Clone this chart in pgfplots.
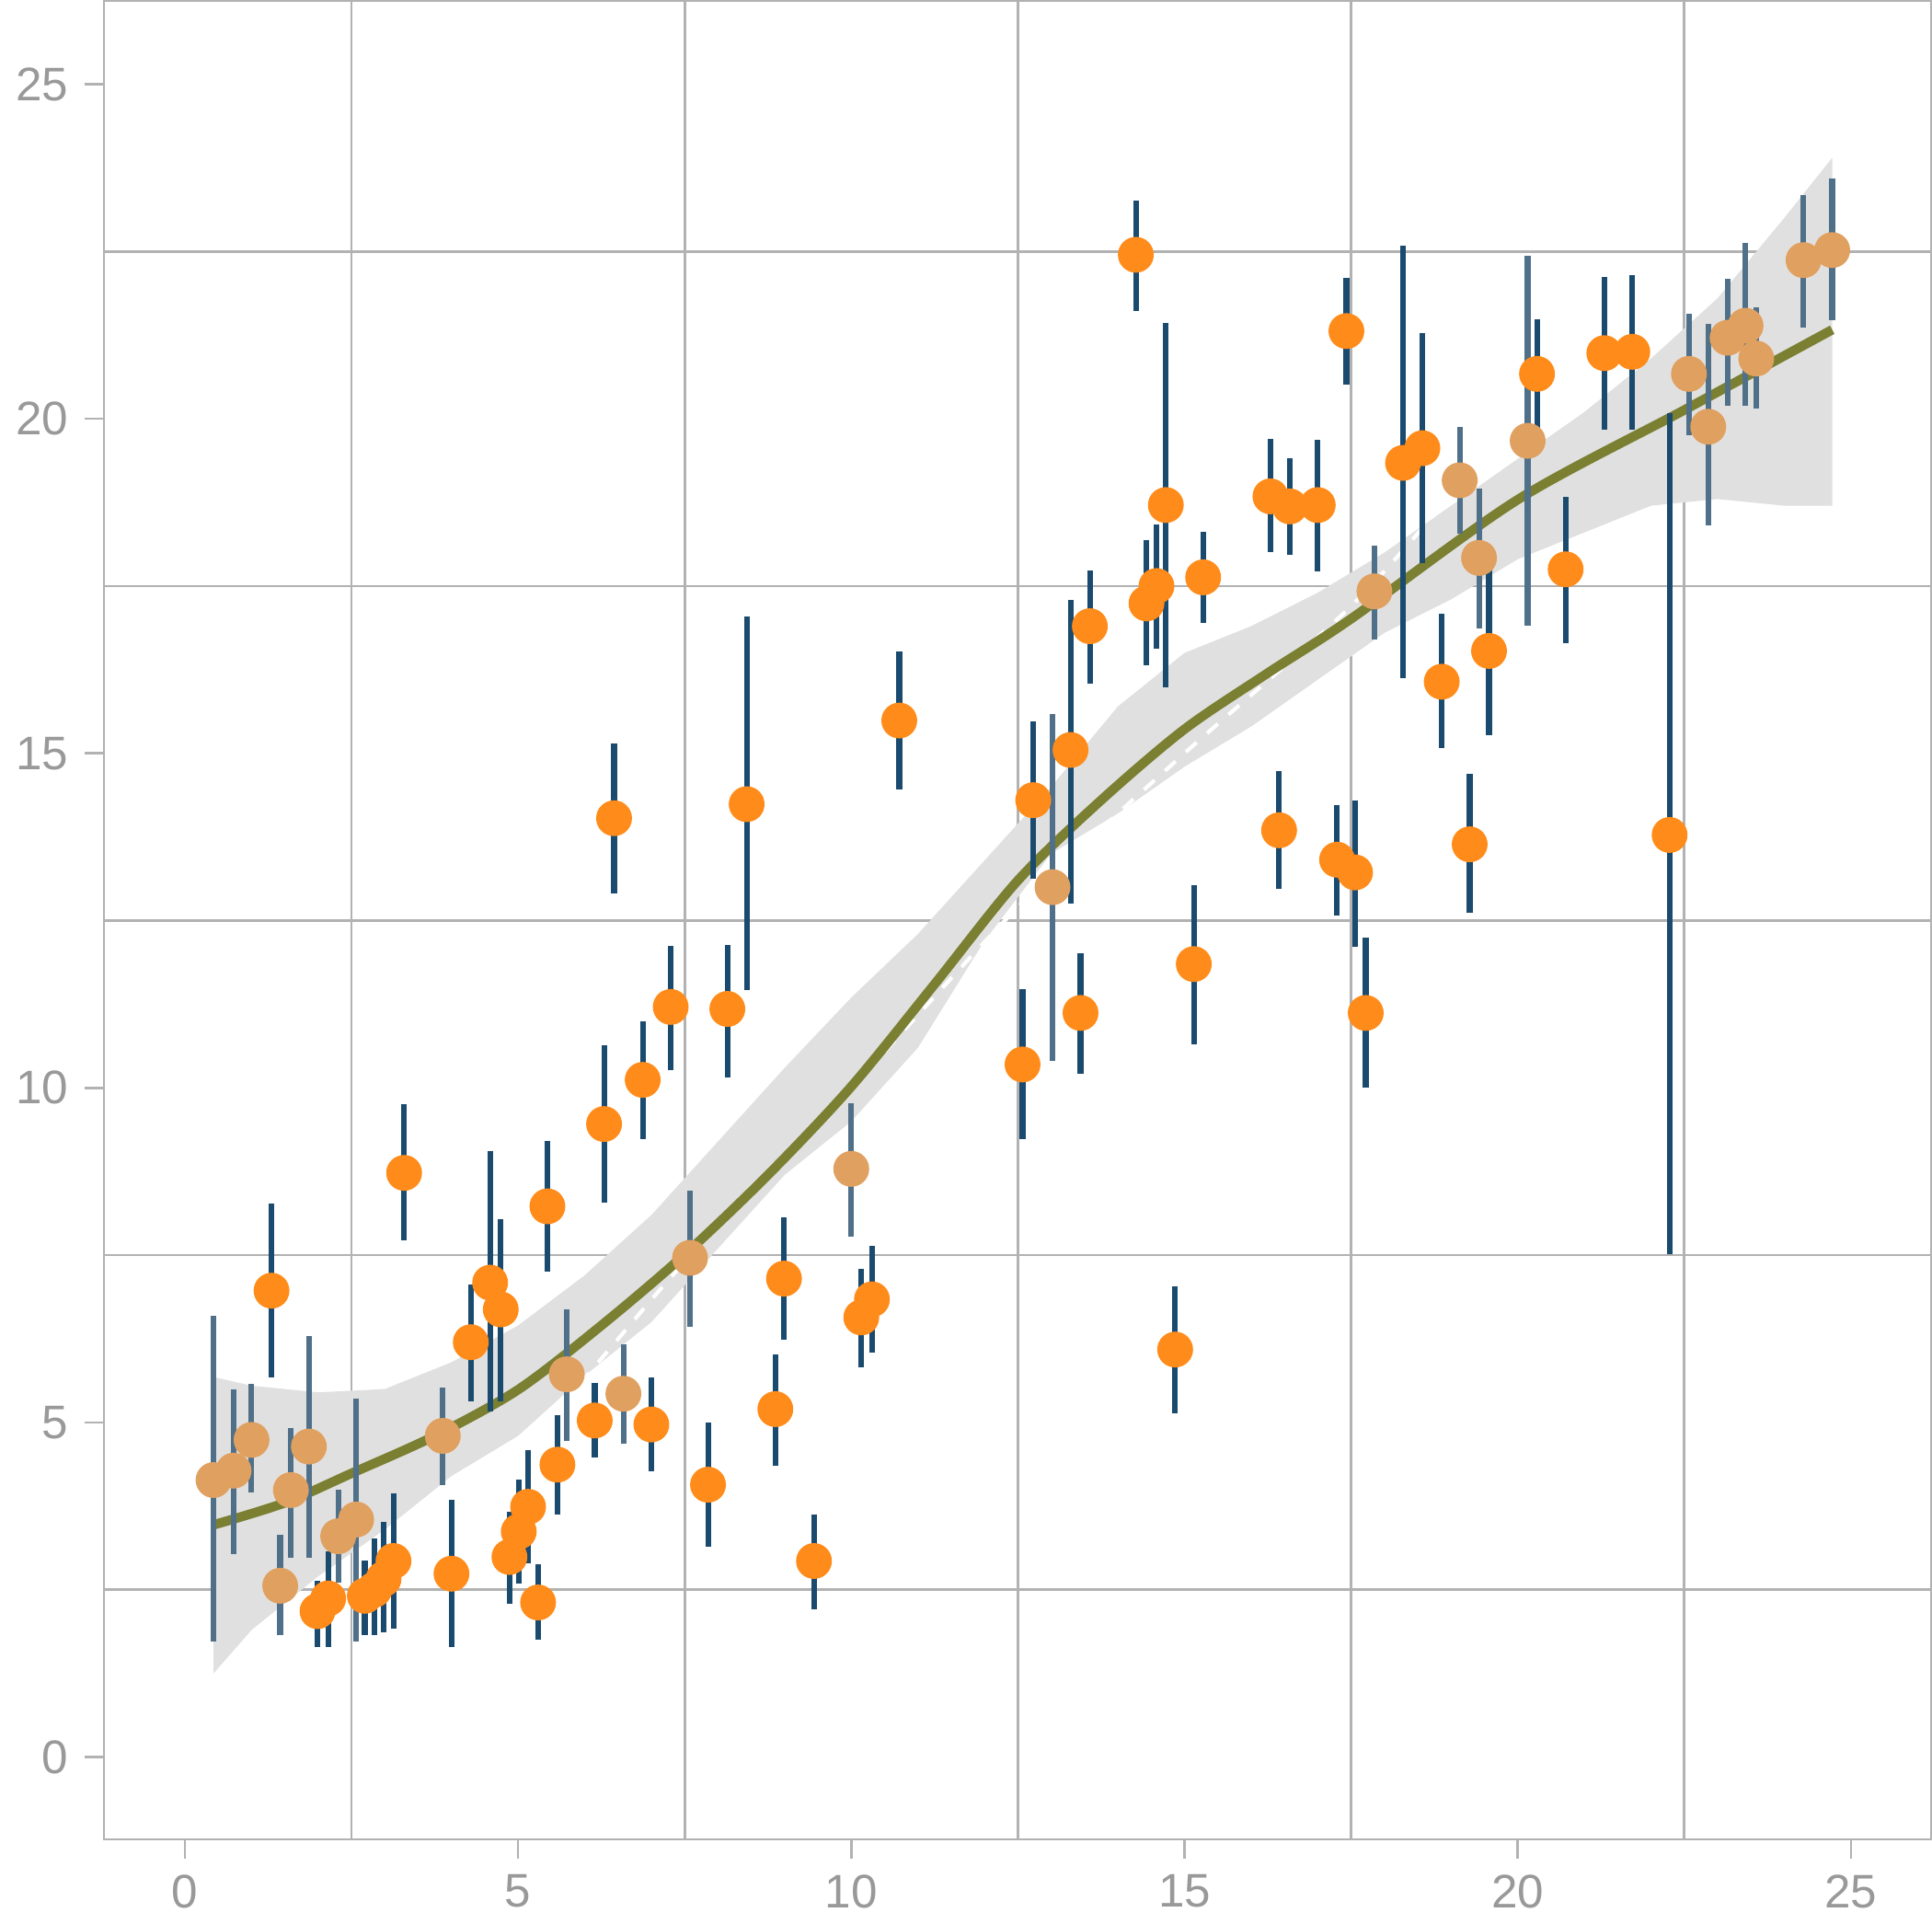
\documentclass[border=0pt]{standalone}
\usepackage{pgfplots}
\usepackage{pgfplotstable}
\pgfplotsset{compat=1.18}
\usepackage{fontspec}
\setmainfont{Liberation Sans}
\definecolor{dorange}{HTML}{FF8C1A}
\definecolor{tan}{HTML}{E0A060}
\definecolor{dblue}{HTML}{1A4A6E}
\definecolor{gblue}{HTML}{4F7088}
\definecolor{olive}{HTML}{7A7F32}
\definecolor{band}{HTML}{E0E0E0}
\pgfplotstableread{
x y lo hi
1.3 6.97 5.82 8.13
1.99 2.18 1.79 2.5
2.15 2.37 1.79 2.93
2.7 2.41 1.97 2.79
2.84 2.5 1.97 3.12
2.98 2.66 2.0 3.37
3.13 2.93 2.06 3.8
3.29 8.73 7.86 9.61
4.0 2.74 1.79 3.7
4.29 6.2 5.45 6.92
4.58 7.09 5.3 8.92
4.74 6.69 5.45 7.9
4.87 2.99 2.43 3.53
5.01 3.37 2.74 4.0
5.15 3.74 3.04 4.45
5.3 2.31 1.89 2.74
5.44 8.23 7.4 9.06
5.59 4.37 3.76 4.97
6.15 5.03 4.62 5.45
6.29 9.46 8.42 10.5
6.44 14.03 13.04 15.0
6.87 10.12 9.38 10.85
7.0 4.97 4.41 5.53
7.29 11.21 10.4 11.98
7.85 4.07 3.29 4.86
8.14 11.18 10.3 12.0
8.43 14.24 11.6 16.9
8.86 5.2 4.49 5.88
8.99 7.15 6.38 7.92
9.44 2.93 2.35 3.49
10.15 6.57 5.97 7.15
10.31 6.84 6.18 7.5
10.72 15.49 14.6 16.38
12.57 10.35 9.38 11.33
12.73 14.3 13.26 15.34
13.29 15.05 12.89 17.15
13.44 11.12 10.35 11.87
13.58 16.9 16.18 17.59
14.27 22.45 21.75 23.12
14.43 17.24 16.45 18.05
14.58 17.5 16.7 18.28
14.72 18.71 16.13 21.29
14.86 6.09 5.28 6.9
15.14 11.85 10.79 12.89
15.28 17.63 17.09 18.17
16.29 18.84 18.15 19.56
16.42 13.85 13.12 14.6
16.58 18.69 18.11 19.27
17.0 18.71 17.86 19.54
17.29 13.41 12.72 14.08
17.43 21.31 20.65 21.97
17.56 13.22 12.25 14.16
17.72 11.12 10.15 12.1
18.28 19.34 16.26 22.45
18.57 19.56 17.98 21.14
18.86 16.07 15.22 16.94
19.28 13.64 12.76 14.55
19.57 16.53 15.41 17.63
20.29 20.67 19.98 21.35
20.72 17.75 16.78 18.69
21.3 20.98 19.98 21.98
21.72 21.0 19.98 22.0
22.28 13.78 7.65 19.94
}\orange
\pgfplotstableread{
x y lo hi
0.43 4.14 1.87 6.45
0.73 4.28 3.18 5.36
1.0 4.74 4.09 5.43
1.43 2.56 1.97 3.18
1.59 3.99 3.12 4.78
1.86 4.64 3.12 6.15
2.3 3.3 2.75 3.85
2.57 3.55 1.87 5.22
3.87 4.8 4.2 5.38
5.73 5.72 4.87 6.55
6.58 5.43 4.82 6.03
7.58 7.46 6.57 8.32
10.0 8.79 7.92 9.63
13.02 13.0 10.54 15.45
17.85 17.42 16.84 17.96
19.13 19.08 18.42 19.73
19.42 17.92 17.01 18.82
20.15 19.67 17.05 22.29
22.57 20.67 19.9 21.43
22.86 19.88 18.55 21.27
23.15 21.21 20.33 21.95
23.42 21.39 20.33 22.48
23.58 20.9 20.29 21.52
24.29 22.37 21.5 23.2
24.72 22.52 21.62 23.45
}\tanpts
\begin{document}
\begin{tikzpicture}
\begin{axis}[
  scale only axis, width=13.63cm, height=13.71cm,
  xmin=-1.22, xmax=26.2, ymin=-1.23, ymax=26.24,
  xtick={0,5,...,25}, ytick={0,5,...,25},
  minor xtick={2.5,7.5,12.5,17.5,22.5},
  minor ytick={2.5,7.5,12.5,17.5,22.5},
  minor tick length=0pt,
  grid=minor,
  minor grid style={gray!60, line width=0.5pt},
  axis line style={gray!60},
  tick style={gray!60, line width=0.5pt},
  tick align=outside, major tick length=4pt,
  xtick pos=bottom, ytick pos=left,
  ticklabel style={font=\fontsize{10}{12}\selectfont, text=gray!80},
  /pgf/number format/assume math mode=true,
]
\addplot[draw=none, fill=band] coordinates {
(0.43,5.68)(1,5.55)(2,5.45)(3,5.5)(4,5.9)(5,6.45)(6,7.2)(7,8.1)(8,9.2)(9,10.3)(10,11.35)(11,12.3)(12,13.4)(13,14.5)(14,15.7)(15,16.5)(16,16.9)(17,17.4)(18,18.0)(19,18.7)(20,19.4)(21,20.1)(22,20.9)(23,21.8)(24,23.0)(24.72,23.9)
(24.72,18.7)(24,18.7)(23,18.8)(22,18.7)(21,18.3)(20,17.9)(19,17.3)(18,16.8)(17,16.1)(16,15.4)(15,14.8)(14,14.1)(13,13.5)(12,12.2)(11,10.6)(10,9.5)(9,8.7)(8,7.6)(7,6.5)(6,5.7)(5,4.8)(4,4.2)(3,3.4)(2,2.7)(1,1.9)(0.43,1.25)
} -- cycle;
\addplot[white, dashed, line width=0.8pt, smooth] coordinates {
(2.6,3.0)(5,4.6)(7.5,7.4)(10,10.0)(12.5,12.7)(15,15.0)(17.5,17.2)(19.2,19.1)(20.2,20.3)(21.7,21.8)};
\addplot[olive, line width=2pt, smooth] coordinates {
(0.43,3.47)(1.5,3.8)(2.5,4.24)(3.75,4.8)(5,5.49)(6.25,6.45)(7.5,7.51)(8.75,8.7)(10,10.02)(11.25,11.55)(12.5,13.1)(13.75,14.3)(15,15.36)(16.25,16.2)(17.5,17.01)(20,18.79)(22.5,20.13)(24.72,21.33)};
\addplot[only marks, mark=*, mark size=3.6pt, color=tan,
  error bars/.cd, y dir=both, y explicit, error mark=-, error bar style={gblue, line width=1.2pt},
  error mark options={mark size=2pt, line width=1.2pt, gblue}]
  table[x=x, y=y, y error plus expr=\thisrow{hi}-\thisrow{y}, y error minus expr=\thisrow{y}-\thisrow{lo}] {\tanpts};
\addplot[only marks, mark=*, mark size=3.6pt, color=dorange,
  error bars/.cd, y dir=both, y explicit, error mark=-, error bar style={dblue, line width=1.2pt},
  error mark options={mark size=2pt, line width=1.2pt, dblue}]
  table[x=x, y=y, y error plus expr=\thisrow{hi}-\thisrow{y}, y error minus expr=\thisrow{y}-\thisrow{lo}] {\orange};
\end{axis}
\end{tikzpicture}
\end{document}
